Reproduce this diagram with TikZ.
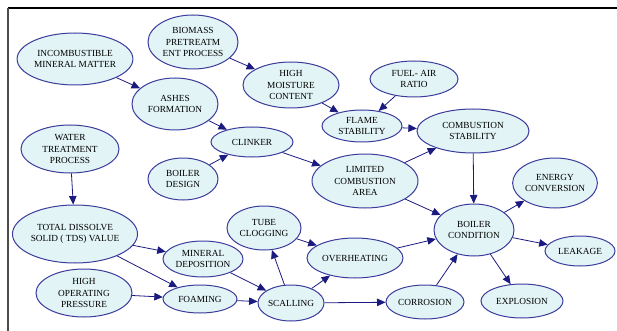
\documentclass[tikz,border=0pt]{standalone}
\usepackage{fontspec}
\setmainfont{Liberation Serif}
\usetikzlibrary{shapes.geometric,arrows.meta}
\definecolor{nodefill}{HTML}{E2F4F5}
\definecolor{nodeline}{HTML}{3C3C9C}
\definecolor{edgecol}{HTML}{1A1A80}
\tikzset{
  ell/.style={ellipse, draw=nodeline, fill=nodefill, line width=1pt, inner sep=0pt,
    align=center, font=\fontsize{9.3}{11.5}\selectfont, text=black},
  conn/.style={draw=edgecol, line width=0.8pt, -{Triangle[length=8.5pt,width=7.5pt]}},
}
\newcommand{\E}[6]{\node[ell, minimum width=#4pt, minimum height=#5pt] (#1) at (#2pt,-#3pt) {#6};}
\begin{document}
\begin{tikzpicture}[x=1pt,y=1pt]
\useasboundingbox (0,0) rectangle (617,-331);
\draw[black, line width=1.2pt] (8,-8) -- (617,-8);
\draw[black!70, line width=1.5pt] (8,-8) -- (8,-331);
\E{inc}{75}{59}{108}{52}{INCOMBUSTIBLE\\MINERAL MATTER}
\E{bio}{193}{42}{90}{54}{BIOMASS\\PRETREATM\\ENT PROCESS}
\E{moist}{291}{85}{96}{46}{HIGH\\MOISTURE\\CONTENT}
\E{ash}{175}{104}{86}{52}{ASHES\\FORMATION}
\E{clink}{252}{142}{82}{30}{CLINKER}
\E{water}{70}{149}{98}{48}{WATER\\TREATMENT\\PROCESS}
\E{bdes}{183}{179}{70}{42}{BOILER\\DESIGN}
\E{fuel}{414}{79}{88}{36}{FUEL- AIR\\RATIO}
\E{flame}{362}{126}{80}{32}{FLAME\\STABILITY}
\E{comb}{473}{131}{112}{44}{COMBUSTION\\STABILITY}
\E{lim}{365}{181}{106}{54}{LIMITED\\COMBUSTION\\AREA}
\E{energy}{555}{183}{84}{50}{ENERGY\\CONVERSION}
\E{bcond}{474}{230}{80}{52}{BOILER\\CONDITION}
\E{leak}{580}{251}{70}{30}{LEAKAGE}
\E{over}{355}{258}{96}{40}{OVERHEATING}
\E{corr}{425}{302}{78}{34}{CORROSION}
\E{expl}{522}{301}{82}{34}{EXPLOSION}
\E{tds}{75}{234}{110}{58}{TOTAL DISSOLVE\\SOLID ( TDS) VALUE}
\E{mind}{203}{259}{80}{36}{MINERAL\\DEPOSITION}
\E{tube}{264}{228}{74}{44}{TUBE\\CLOGGING}
\E{hop}{84}{293}{96}{48}{HIGH\\OPERATING\\PRESSURE}
\E{foam}{200}{299}{74}{28}{FOAMING}
\E{scal}{291}{303}{66}{36}{SCALLING}
\draw[conn] (inc) -- (ash);
\draw[conn] (bio) -- (moist);
\draw[conn] (ash) -- (clink);
\draw[conn] (moist) -- (flame);
\draw[conn] (fuel) -- (flame);
\draw[conn] (flame) -- (comb);
\draw[conn] (clink) -- (lim);
\draw[conn] (bdes) -- (clink);
\draw[conn] (lim) -- (comb);
\draw[conn] (comb) -- (bcond);
\draw[conn] (lim) -- (bcond);
\draw[conn] (water) -- (tds);
\draw[conn] (tds) -- (mind);
\draw[conn] (tds) -- (foam);
\draw[conn] (hop) -- (foam);
\draw[conn] (mind) -- (scal);
\draw[conn] (foam) -- (scal);
\draw[conn] (scal) -- (tube);
\draw[conn] (tube) -- (over);
\draw[conn] (scal) -- (over);
\draw[conn] (scal) -- (corr);
\draw[conn] (over) -- (bcond);
\draw[conn] (corr) -- (bcond);
\draw[conn] (bcond) -- (energy);
\draw[conn] (bcond) -- (leak);
\draw[conn] (bcond) -- (expl);
\end{tikzpicture}
\end{document}
